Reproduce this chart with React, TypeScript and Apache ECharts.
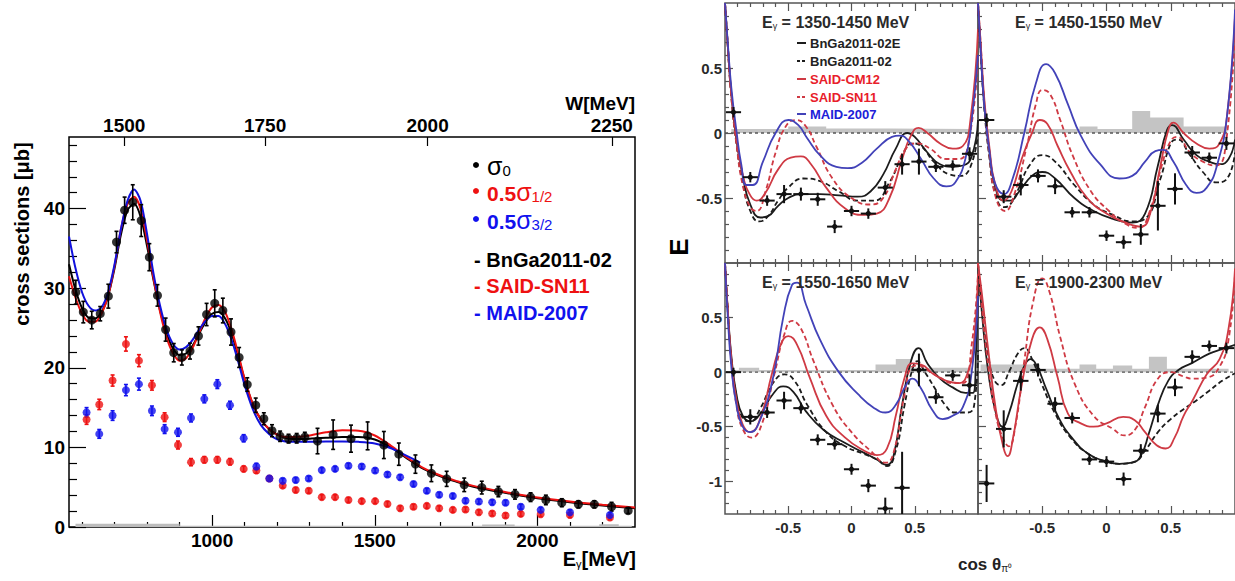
import React, { useEffect, useRef } from "react";
import * as echarts from "echarts";

const FF = '"Liberation Sans", Arial, Helvetica, sans-serif';
const MP = 938.27;

// ---------------- left chart: cross sections ----------------
const sigma0E = [581, 604, 630, 656, 681, 706, 731, 756, 782, 807, 832, 857, 882, 907, 932, 958, 983, 1008, 1033, 1058, 1083, 1108, 1134, 1159, 1184, 1209, 1235, 1260, 1285, 1324, 1372, 1427, 1478, 1528, 1574, 1625, 1674, 1721, 1775, 1829, 1880, 1931, 1979, 2026, 2075, 2126, 2175, 2228, 2279];
const sigma0 = [29.5, 27.0, 26.0, 26.8, 29.0, 35.8, 39.8, 40.8, 38.5, 33.9, 29.1, 24.8, 21.9, 21.3, 22.1, 24.0, 26.7, 28.1, 27.2, 24.5, 21.3, 17.9, 15.3, 13.6, 12.1, 11.4, 11.1, 11.15, 11.3, 10.8, 11.6, 11.1, 11.45, 10.3, 9.15, 7.9, 6.75, 6.05, 5.3, 4.95, 4.45, 4.1, 3.75, 3.4, 3.05, 2.85, 2.85, 2.55, 2.05];
const sigma0Err = [1.5, 1.35, 1.1, 0.9, 1.5, 1.35, 1.65, 2.2, 2.0, 1.7, 1.35, 1.45, 1.15, 0.95, 1.0, 1.15, 1.4, 1.7, 1.55, 1.65, 1.25, 0.85, 0.9, 0.75, 0.75, 0.65, 0.55, 0.6, 0.6, 1.6, 1.85, 1.7, 1.75, 1.7, 1.4, 1.15, 1.05, 0.95, 0.85, 0.8, 0.65, 0.6, 0.55, 0.6, 0.5, 0.45, 0.45, 0.55, 0.35];

const halfE = [614, 653, 694, 735, 775, 815, 854, 895, 935, 976, 1016, 1055, 1097, 1136, 1176, 1217, 1257, 1297, 1337, 1378, 1419, 1460, 1501, 1539, 1578, 1619, 1660, 1698, 1740, 1779, 1820, 1861, 1902, 1949, 2010, 2100, 2223];
const sigmaHalf = [13.5, 15.4, 18.4, 23.0, 20.9, 17.8, 13.8, 10.3, 8.15, 8.45, 8.45, 8.2, 7.3, 7.1, 6.1, 5.2, 4.65, 4.55, 3.75, 3.75, 3.4, 3.25, 3.25, 2.9, 2.35, 2.55, 2.65, 2.35, 2.15, 2.2, 1.85, 1.7, 1.45, 1.65, 1.6, 1.5, 1.2];
const sigmaHalfErr = [0.6, 0.65, 0.7, 0.9, 0.75, 0.6, 0.55, 0.5, 0.45, 0.4, 0.4, 0.4, 0.35, 0.35, 0.3, 0.3, 0.3, 0.3, 0.3, 0.3, 0.3, 0.3, 0.3, 0.3, 0.3, 0.3, 0.3, 0.3, 0.3, 0.3, 0.3, 0.3, 0.3, 0.3, 0.3, 0.3, 0.3];
const sigma32 = [14.4, 11.7, 14.0, 17.2, 17.95, 14.6, 12.3, 11.9, 13.7, 16.1, 17.95, 15.3, 11.15, 7.6, 6.1, 5.8, 5.9, 6.1, 7.15, 7.3, 7.7, 7.6, 7.1, 6.6, 6.25, 5.4, 4.55, 4.05, 3.9, 3.3, 3.2, 3.1, 3.05, 2.55, 2.15, 1.85, 1.5];
const sigma32Err = [0.6, 0.55, 0.6, 0.7, 0.75, 0.6, 0.55, 0.5, 0.5, 0.5, 0.55, 0.5, 0.45, 0.4, 0.35, 0.3, 0.3, 0.3, 0.3, 0.3, 0.3, 0.3, 0.3, 0.3, 0.3, 0.3, 0.3, 0.3, 0.3, 0.3, 0.3, 0.3, 0.3, 0.3, 0.3, 0.3, 0.3];

const curveE = [560, 580, 600, 620, 640, 660, 680, 700, 720, 740, 760, 780, 800, 820, 840, 860, 880, 900, 920, 940, 960, 980, 1000, 1020, 1040, 1060, 1080, 1100, 1125, 1150, 1175, 1200, 1225, 1250, 1300, 1350, 1400, 1450, 1500, 1550, 1600, 1650, 1700, 1750, 1800, 1900, 2000, 2100, 2200, 2300];
const bngaSigma = [33.0, 29.8, 27.5, 26.3, 26.2, 27.0, 29.0, 32.5, 36.8, 39.8, 40.6, 39.0, 35.3, 31.0, 27.2, 24.3, 22.4, 21.6, 21.8, 22.8, 24.3, 25.8, 26.8, 27.0, 26.2, 24.3, 21.5, 18.5, 15.4, 13.5, 12.3, 11.6, 11.2, 11.05, 11.1, 11.2, 11.3, 11.3, 11.0, 10.0, 8.6, 7.3, 6.4, 5.7, 5.1, 4.3, 3.6, 3.1, 2.7, 2.35];
const saidSigma = [31.5, 28.8, 26.8, 25.8, 25.8, 26.8, 29.0, 32.8, 37.5, 40.6, 41.5, 40.0, 36.0, 31.2, 27.0, 23.8, 21.8, 20.9, 21.2, 22.5, 24.4, 26.3, 27.6, 27.9, 27.0, 24.8, 21.8, 18.6, 15.5, 13.5, 12.3, 11.6, 11.3, 11.3, 11.5, 11.9, 12.15, 12.1, 11.5, 10.2, 8.7, 7.4, 6.5, 5.8, 5.2, 4.4, 3.7, 3.2, 2.8, 2.45];
const maidE = [560, 580, 600, 620, 640, 660, 680, 700, 720, 740, 760, 780, 800, 820, 840, 860, 880, 900, 920, 940, 960, 980, 1000, 1020, 1040, 1060, 1080, 1100, 1125, 1150, 1175, 1200, 1225, 1250, 1300, 1350, 1400, 1450, 1500, 1550, 1600, 1640];
const maidSigma = [36.5, 32.5, 29.5, 27.8, 27.2, 27.6, 29.5, 33.0, 37.5, 41.0, 42.4, 41.0, 36.8, 31.8, 27.8, 24.8, 23.0, 22.3, 22.6, 23.5, 24.8, 25.9, 26.5, 26.5, 25.5, 23.5, 20.8, 17.8, 14.8, 12.8, 11.7, 11.0, 10.75, 10.7, 10.7, 10.75, 10.75, 10.7, 10.5, 9.9, 8.9, 8.1];
const sysEdgeE = [580, 900, 1830, 1930, 2190, 2250, 2290];
const sysSigma = [0.4, 0.15, 0.3, 0.15, 0.35, 0.15, 0.15];

const eMajorTicks = [1000, 1500, 2000];
const eMinorTicks = [600, 700, 800, 900, 1100, 1200, 1300, 1400, 1600, 1700, 1800, 1900, 2100, 2200];
const sMajorTicks = [0, 10, 20, 30, 40];
const sMinorTicks = [2, 4, 6, 8, 12, 14, 16, 18, 22, 24, 26, 28, 32, 34, 36, 38, 42, 44, 46, 48];
const wTicks = [1500, 1750, 2000, 2250];

// ---------------- right chart: E asymmetry ----------------
const binCos = [-0.933, -0.8, -0.667, -0.533, -0.4, -0.267, -0.133, 0, 0.133, 0.267, 0.4, 0.533, 0.667, 0.8, 0.933];
const cosMajor = [-0.5, 0, 0.5];
const cosMinor = [-0.9, -0.8, -0.7, -0.6, -0.4, -0.3, -0.2, -0.1, 0.1, 0.2, 0.3, 0.4, 0.6, 0.7, 0.8, 0.9];
const eMajorTop = [-0.5, 0, 0.5];
const eMinorTop = [-0.9, -0.8, -0.7, -0.6, -0.4, -0.3, -0.2, -0.1, 0.1, 0.2, 0.3, 0.4, 0.6, 0.7, 0.8, 0.9];
const eMajorBottom = [-1, -0.5, 0, 0.5];
const eMinorBottom = [-1.2, -1.1, -0.9, -0.8, -0.7, -0.6, -0.4, -0.3, -0.2, -0.1, 0.1, 0.2, 0.3, 0.4, 0.6, 0.7, 0.8, 0.9];

// 1350-1450 MeV
const tlE = [0.16, -0.34, -0.52, -0.47, -0.47, -0.51, -0.72, -0.6, -0.62, -0.42, -0.24, -0.22, -0.26, -0.25, -0.16];
const tlErr = [0.04, 0.04, 0.04, 0.07, 0.05, 0.05, 0.05, 0.04, 0.04, 0.05, 0.08, 0.1, 0.04, 0.04, 0.05];
const tlBnGaE = [[-1, 1], [-0.98, 0.7], [-0.95, 0.3], [-0.91, -0.05], [-0.86, -0.33], [-0.8, -0.55], [-0.72, -0.65], [-0.66, -0.64], [-0.58, -0.56], [-0.5, -0.5], [-0.4, -0.47], [-0.25, -0.47], [-0.1, -0.48], [0.05, -0.49], [0.15, -0.45], [0.25, -0.32], [0.35, -0.12], [0.44, 0.0], [0.5, -0.03], [0.6, -0.15], [0.7, -0.24], [0.8, -0.26], [0.88, -0.25], [0.95, -0.18], [1, 0.1]];
const tlBnGa = [[-1, 1], [-0.98, 0.7], [-0.95, 0.28], [-0.91, -0.08], [-0.86, -0.38], [-0.8, -0.6], [-0.73, -0.68], [-0.66, -0.64], [-0.58, -0.52], [-0.5, -0.42], [-0.38, -0.35], [-0.25, -0.37], [-0.1, -0.45], [0.05, -0.52], [0.18, -0.52], [0.3, -0.38], [0.4, -0.18], [0.48, -0.08], [0.55, -0.1], [0.65, -0.22], [0.78, -0.32], [0.86, -0.33], [0.94, -0.26], [1, 0.0]];
const tlCM12 = [[-1, 1], [-0.98, 0.7], [-0.95, 0.3], [-0.91, -0.03], [-0.86, -0.32], [-0.8, -0.48], [-0.75, -0.52], [-0.68, -0.46], [-0.58, -0.28], [-0.48, -0.19], [-0.4, -0.18], [-0.32, -0.24], [-0.2, -0.42], [-0.05, -0.58], [0.1, -0.63], [0.2, -0.62], [0.3, -0.5], [0.4, -0.2], [0.47, -0.02], [0.53, 0.04], [0.6, 0.0], [0.7, -0.08], [0.8, -0.12], [0.88, -0.1], [0.94, 0.1], [1, 0.8]];
const tlSN11 = [[-1, 1], [-0.98, 0.7], [-0.95, 0.28], [-0.91, -0.08], [-0.86, -0.4], [-0.8, -0.57], [-0.75, -0.6], [-0.68, -0.45], [-0.6, -0.15], [-0.52, 0.05], [-0.44, 0.1], [-0.36, 0.05], [-0.28, -0.1], [-0.15, -0.35], [0.0, -0.5], [0.15, -0.55], [0.25, -0.5], [0.35, -0.28], [0.43, -0.12], [0.52, -0.08], [0.62, -0.12], [0.75, -0.2], [0.85, -0.2], [0.93, -0.05], [1, 0.6]];
const tlMAID = [[-1, 1], [-0.98, 0.72], [-0.95, 0.35], [-0.91, 0.02], [-0.87, -0.25], [-0.83, -0.4], [-0.78, -0.4], [-0.7, -0.22], [-0.6, 0.0], [-0.5, 0.1], [-0.42, 0.06], [-0.35, -0.04], [-0.25, -0.17], [-0.12, -0.26], [-0.03, -0.27], [0.08, -0.23], [0.2, -0.12], [0.32, -0.03], [0.38, -0.02], [0.45, -0.06], [0.55, -0.2], [0.65, -0.35], [0.75, -0.41], [0.82, -0.38], [0.9, -0.2], [0.95, 0.1], [1, 0.6]];
const tlSys = [[-0.95, 0.03], [-0.5, 0.05], [-0.2, 0.035], [0.3, 0.03], [0.95, 0.03]];

// 1450-1550 MeV
const trE = [0.1, -0.49, -0.4, -0.33, -0.41, -0.61, -0.61, -0.79, -0.84, -0.78, -0.56, -0.43, -0.15, -0.19, -0.08];
const trErr = [0.05, 0.05, 0.08, 0.05, 0.06, 0.04, 0.04, 0.04, 0.05, 0.08, 0.19, 0.12, 0.05, 0.04, 0.05];
const trBnGaE = [[-1, 1], [-0.98, 0.65], [-0.95, 0.2], [-0.91, -0.15], [-0.87, -0.4], [-0.8, -0.52], [-0.75, -0.52], [-0.68, -0.45], [-0.58, -0.33], [-0.5, -0.3], [-0.4, -0.35], [-0.25, -0.5], [-0.1, -0.6], [0.05, -0.66], [0.2, -0.69], [0.3, -0.62], [0.4, -0.25], [0.47, 0.02], [0.51, 0.06], [0.6, -0.05], [0.7, -0.17], [0.8, -0.22], [0.88, -0.24], [0.95, -0.2], [1, -0.05]];
const trBnGa = [[-1, 1], [-0.98, 0.65], [-0.95, 0.18], [-0.91, -0.2], [-0.87, -0.45], [-0.8, -0.57], [-0.75, -0.55], [-0.68, -0.42], [-0.6, -0.25], [-0.5, -0.17], [-0.4, -0.22], [-0.25, -0.4], [-0.1, -0.55], [0.05, -0.63], [0.2, -0.68], [0.3, -0.66], [0.42, -0.35], [0.5, -0.08], [0.55, -0.05], [0.65, -0.17], [0.75, -0.3], [0.85, -0.38], [0.93, -0.36], [1, -0.15]];
const trCM12 = [[-1, 1], [-0.98, 0.7], [-0.95, 0.25], [-0.91, -0.12], [-0.87, -0.38], [-0.8, -0.52], [-0.74, -0.45], [-0.66, -0.2], [-0.58, 0.0], [-0.52, 0.1], [-0.46, 0.07], [-0.38, -0.1], [-0.28, -0.3], [-0.15, -0.5], [0.0, -0.62], [0.15, -0.69], [0.27, -0.72], [0.34, -0.62], [0.42, -0.25], [0.48, 0.02], [0.52, 0.08], [0.6, 0.0], [0.7, -0.08], [0.8, -0.12], [0.88, -0.08], [0.94, 0.15], [1, 0.9]];
const trSN11 = [[-1, 1], [-0.98, 0.7], [-0.95, 0.22], [-0.91, -0.18], [-0.86, -0.5], [-0.79, -0.6], [-0.72, -0.48], [-0.62, -0.1], [-0.55, 0.22], [-0.5, 0.33], [-0.44, 0.3], [-0.36, 0.1], [-0.26, -0.18], [-0.12, -0.45], [0.02, -0.6], [0.15, -0.7], [0.25, -0.73], [0.33, -0.62], [0.43, -0.25], [0.5, -0.06], [0.55, -0.03], [0.65, -0.15], [0.75, -0.22], [0.85, -0.25], [0.92, -0.15], [1, 0.8]];
const trMAID = [[-1, 1], [-0.98, 0.65], [-0.95, 0.2], [-0.91, -0.15], [-0.87, -0.38], [-0.8, -0.47], [-0.73, -0.35], [-0.64, 0.0], [-0.55, 0.38], [-0.47, 0.53], [-0.4, 0.46], [-0.3, 0.22], [-0.2, -0.02], [-0.05, -0.24], [0.1, -0.35], [0.2, -0.33], [0.3, -0.22], [0.38, -0.14], [0.44, -0.13], [0.52, -0.22], [0.62, -0.4], [0.7, -0.46], [0.78, -0.42], [0.86, -0.25], [0.94, 0.15], [1, 0.95]];
const trSys = [[-0.94, 0.03], [-0.21, 0.05], [-0.07, 0.03], [0.2, 0.17], [0.34, 0.12], [0.6, 0.05], [0.94, 0.05]];

// 1550-1650 MeV
const blE = [0.0, -0.41, -0.37, -0.26, -0.33, -0.62, -0.66, -0.89, -1.04, -1.25, -1.06, 0.02, -0.23, -0.03, -0.12];
const blErr = [0.04, 0.07, 0.05, 0.08, 0.05, 0.05, 0.05, 0.05, 0.06, 0.1, 0.33, 0.15, 0.06, 0.05, 0.1];
const blBnGaE = [[-1, 1], [-0.98, 0.6], [-0.95, 0.15], [-0.91, -0.2], [-0.86, -0.4], [-0.8, -0.45], [-0.72, -0.38], [-0.62, -0.2], [-0.54, -0.13], [-0.46, -0.18], [-0.36, -0.36], [-0.22, -0.53], [-0.05, -0.65], [0.1, -0.74], [0.2, -0.8], [0.28, -0.85], [0.33, -0.78], [0.4, -0.3], [0.47, 0.1], [0.53, 0.22], [0.6, 0.08], [0.7, -0.06], [0.8, -0.14], [0.9, -0.19], [0.96, -0.19], [0.985, 0.2], [1, 0.8]];
const blBnGa = [[-1, 1], [-0.98, 0.6], [-0.95, 0.12], [-0.91, -0.22], [-0.86, -0.42], [-0.8, -0.45], [-0.72, -0.33], [-0.62, -0.1], [-0.53, -0.02], [-0.45, -0.08], [-0.35, -0.3], [-0.2, -0.55], [-0.05, -0.68], [0.1, -0.75], [0.2, -0.8], [0.28, -0.86], [0.35, -0.72], [0.42, -0.3], [0.48, 0.02], [0.52, 0.1], [0.58, 0.0], [0.66, -0.15], [0.74, -0.3], [0.82, -0.37], [0.92, -0.37], [0.97, -0.3], [1, 0.2]];
const blCM12 = [[-1, 1], [-0.98, 0.6], [-0.95, 0.12], [-0.91, -0.25], [-0.86, -0.48], [-0.8, -0.55], [-0.72, -0.42], [-0.63, -0.02], [-0.56, 0.25], [-0.5, 0.33], [-0.43, 0.25], [-0.33, -0.05], [-0.2, -0.4], [-0.05, -0.6], [0.1, -0.72], [0.2, -0.76], [0.28, -0.7], [0.35, -0.4], [0.42, -0.05], [0.48, 0.08], [0.55, 0.07], [0.65, -0.02], [0.75, -0.08], [0.85, -0.1], [0.92, 0.0], [0.97, 0.3], [1, 0.9]];
const blSN11 = [[-1, 1], [-0.98, 0.6], [-0.95, 0.1], [-0.91, -0.3], [-0.86, -0.52], [-0.79, -0.6], [-0.71, -0.48], [-0.61, -0.02], [-0.53, 0.35], [-0.47, 0.47], [-0.4, 0.4], [-0.3, 0.1], [-0.15, -0.3], [0.0, -0.55], [0.15, -0.72], [0.27, -0.83], [0.33, -0.75], [0.42, -0.2], [0.48, 0.05], [0.53, 0.06], [0.6, 0.02], [0.7, -0.05], [0.8, -0.1], [0.88, -0.1], [0.95, 0.25], [1, 0.9]];
const blMAID = [[-1, 1], [-0.98, 0.55], [-0.95, 0.05], [-0.91, -0.3], [-0.86, -0.5], [-0.8, -0.55], [-0.72, -0.43], [-0.62, -0.05], [-0.54, 0.5], [-0.47, 0.8], [-0.43, 0.82], [-0.36, 0.62], [-0.25, 0.3], [-0.1, 0.0], [0.05, -0.2], [0.18, -0.33], [0.27, -0.37], [0.35, -0.3], [0.43, -0.12], [0.48, -0.06], [0.55, -0.15], [0.64, -0.35], [0.72, -0.43], [0.8, -0.4], [0.88, -0.32], [0.95, 0.0], [1, 0.7]];
const blSys = [[-0.95, 0.02], [-0.89, 0.04], [-0.73, 0.02], [0.19, 0.07], [0.35, 0.12], [0.47, 0.04], [0.95, 0.04]];

// 1900-2300 MeV
const brE = [-1.02, -0.52, -0.08, 0.02, -0.29, -0.42, -0.8, -0.82, -0.98, -0.72, -0.38, -0.14, 0.14, 0.24, 0.22];
const brErr = [0.17, 0.17, 0.09, 0.06, 0.06, 0.05, 0.05, 0.05, 0.06, 0.06, 0.08, 0.08, 0.06, 0.05, 0.05];
const brBnGaE = [[-1, 1], [-0.97, 0.55], [-0.92, 0.0], [-0.86, -0.38], [-0.81, -0.5], [-0.76, -0.38], [-0.69, -0.1], [-0.63, 0.08], [-0.59, 0.12], [-0.54, 0.05], [-0.47, -0.15], [-0.38, -0.4], [-0.27, -0.6], [-0.14, -0.75], [0.0, -0.82], [0.1, -0.84], [0.2, -0.83], [0.27, -0.76], [0.33, -0.56], [0.4, -0.3], [0.48, -0.08], [0.56, 0.02], [0.66, 0.08], [0.8, 0.17], [0.9, 0.21], [1, 0.25]];
const brBnGa = [[-1, 1], [-0.97, 0.6], [-0.92, 0.15], [-0.87, -0.08], [-0.82, -0.12], [-0.76, 0.0], [-0.69, 0.17], [-0.64, 0.22], [-0.58, 0.12], [-0.5, -0.12], [-0.4, -0.38], [-0.28, -0.6], [-0.14, -0.75], [0.0, -0.82], [0.1, -0.84], [0.22, -0.82], [0.3, -0.72], [0.4, -0.55], [0.5, -0.43], [0.6, -0.34], [0.7, -0.26], [0.8, -0.17], [0.9, -0.08], [1, -0.01]];
const brCM12 = [[-1, 1], [-0.97, 0.72], [-0.92, 0.2], [-0.86, -0.35], [-0.8, -0.7], [-0.77, -0.77], [-0.73, -0.62], [-0.66, -0.12], [-0.58, 0.3], [-0.52, 0.41], [-0.46, 0.3], [-0.38, -0.05], [-0.3, -0.38], [-0.2, -0.47], [-0.1, -0.5], [0.0, -0.47], [0.13, -0.41], [0.22, -0.44], [0.3, -0.55], [0.39, -0.67], [0.46, -0.7], [0.53, -0.6], [0.6, -0.4], [0.67, -0.26], [0.78, -0.02], [0.88, 0.12], [0.95, 0.4], [1, 0.95]];
const brSN11 = [[-1, 1], [-0.97, 0.6], [-0.92, 0.05], [-0.86, -0.4], [-0.8, -0.62], [-0.76, -0.68], [-0.71, -0.5], [-0.64, 0.1], [-0.57, 0.65], [-0.5, 0.86], [-0.44, 0.72], [-0.36, 0.32], [-0.25, -0.1], [-0.1, -0.4], [0.05, -0.52], [0.14, -0.58], [0.22, -0.53], [0.3, -0.32], [0.4, -0.06], [0.5, 0.0], [0.6, -0.04], [0.67, -0.06], [0.78, -0.05], [0.88, 0.05], [0.95, 0.3], [1, 0.9]];
const brSys = [[-0.98, 0.07], [-0.52, 0.03], [-0.21, 0.07], [-0.08, 0.03], [0.05, 0.06], [0.2, 0.03], [0.33, 0.14], [0.47, 0.03], [0.95, 0.03]];

const panelTitles = ["1350-1450 MeV", "1450-1550 MeV", "1550-1650 MeV", "1900-2300 MeV"];
const rightLegend = ["BnGa2011-02E", "BnGa2011-02", "SAID-CM12", "SAID-SN11", "MAID-2007"];
const leftLegendModels = ["BnGa2011-02", "SAID-SN11", "MAID-2007"];

const C_BLACK = "#1c1c1c";
const C_RED = "#cf3a44";
const C_BLUE = "#4242b8";

function axis(gridIndex: number, position: string, min: number, max: number, ticks: number[], len: number, labels: number[] | null, labelOpt: any, color: string) {
  return {
    type: "value",
    gridIndex,
    position,
    min,
    max,
    axisLine: { show: false, onZero: false },
    splitLine: { show: false },
    axisTick: { show: true, inside: true, length: len, customValues: ticks, lineStyle: { color, width: 1.2 } },
    axisLabel: labels ? { show: true, customValues: labels, formatter: (v: number) => String(v), ...labelOpt } : { show: false },
  };
}

const vbar = (color: string) => (params: any, api: any) => {
  const x = api.value(0), y = api.value(1), e = api.value(2);
  const t = api.coord([x, y + e]);
  const b = api.coord([x, y - e]);
  const st = { stroke: color, lineWidth: 1.6 };
  return {
    type: "group",
    children: [
      { type: "line", shape: { x1: t[0], y1: t[1], x2: b[0], y2: b[1] }, style: st },
      { type: "line", shape: { x1: t[0] - 2, y1: t[1], x2: t[0] + 2, y2: t[1] }, style: st },
      { type: "line", shape: { x1: b[0] - 2, y1: b[1], x2: b[0] + 2, y2: b[1] }, style: st },
    ],
  };
};

const crossRender = (params: any, api: any) => {
  const x = api.value(0), y = api.value(1), e = api.value(2);
  const l = api.coord([x - 0.06, y]);
  const r = api.coord([x + 0.06, y]);
  const t = api.coord([x, y + e]);
  const b = api.coord([x, y - e]);
  const st = { stroke: "#111", lineWidth: 2 };
  return {
    type: "group",
    children: [
      { type: "line", shape: { x1: l[0], y1: l[1], x2: r[0], y2: r[1] }, style: st },
      { type: "line", shape: { x1: t[0], y1: t[1], x2: b[0], y2: b[1] }, style: st },
      { type: "circle", shape: { cx: (l[0] + r[0]) / 2, cy: l[1], r: 2.6 }, style: { fill: "#111" } },
    ],
  };
};

function buildOption() {
  const grids: any[] = [];
  const xAxes: any[] = [];
  const yAxes: any[] = [];
  const series: any[] = [];
  const graphic: any[] = [];

  // ----- left chart -----
  const lg = { left: 69, top: 137, width: 566, height: 390 };
  grids.push({ ...lg, show: true, borderColor: "#000", borderWidth: 1.5, backgroundColor: "transparent" });
  grids.push({ ...lg, show: false });
  const lblL = { color: "#000", fontFamily: FF, fontWeight: "bold", fontSize: 19 };
  xAxes.push(axis(0, "bottom", 560, 2300, eMajorTicks, 12, eMajorTicks, { ...lblL, margin: 4 }, "#000"));
  const wPos = wTicks.map((w) => (w * w - MP * MP) / (2 * MP));
  xAxes.push(
    axis(0, "top", 560, 2300, wPos, 9, wPos, {
      ...lblL,
      margin: 2,
      formatter: (v: number) => String(Math.round(Math.sqrt(MP * MP + 2 * MP * v) / 10) * 10),
    }, "#000")
  );
  xAxes.push(axis(1, "bottom", 560, 2300, eMinorTicks, 5, null, {}, "#000"));
  yAxes.push(axis(0, "left", 0, 49, sMajorTicks, 17, sMajorTicks, { ...lblL, margin: 4 }, "#000"));
  yAxes.push(axis(1, "left", 0, 49, sMinorTicks, 8, null, {}, "#000"));

  series.push({
    type: "line", xAxisIndex: 0, yAxisIndex: 0, step: "end", symbol: "none",
    data: sysEdgeE.map((x, i) => [x, sysSigma[i]]),
    lineStyle: { width: 0 }, areaStyle: { color: "#bdbdbd", opacity: 1 }, z: 1,
  });
  const curve = (xs: number[], ys: number[], color: string) => ({
    type: "line", xAxisIndex: 0, yAxisIndex: 0, symbol: "none", smooth: 0.3,
    data: xs.map((x, i) => [x, ys[i]]), lineStyle: { color, width: 2 }, z: 3,
  });
  series.push(curve(curveE, bngaSigma, "#000"));
  series.push(curve(curveE, saidSigma, "#ee1111"));
  series.push(curve(maidE, maidSigma, "#1111dd"));
  const errSeries = (xs: number[], ys: number[], es: number[], color: string) => ({
    type: "custom", xAxisIndex: 0, yAxisIndex: 0, renderItem: vbar(color),
    data: xs.map((x, i) => [x, ys[i], es[i]]), encode: { x: 0, y: 1 }, z: 4,
  });
  const pts = (xs: number[], ys: number[], color: string, size: number) => ({
    type: "scatter", xAxisIndex: 0, yAxisIndex: 0, symbol: "circle", symbolSize: size,
    data: xs.map((x, i) => [x, ys[i]]), itemStyle: { color }, z: 5,
  });
  series.push(errSeries(halfE, sigmaHalf, sigmaHalfErr, "#ee1111"));
  series.push(errSeries(halfE, sigma32, sigma32Err, "#1111ee"));
  series.push(pts(halfE, sigmaHalf, "#ee1111", 8));
  series.push(pts(halfE, sigma32, "#1111ee", 8));
  series.push(errSeries(sigma0E, sigma0, sigma0Err, "#000"));
  series.push(pts(sigma0E, sigma0, "#000", 9));

  // ----- right panels -----
  const panels = [
    { rect: { left: 725, top: 3, width: 253, height: 260 }, ymin: -1, ymax: 1, yMaj: eMajorTop, yMin: eMinorTop, yLab: true, xLab: false, data: tlE, err: tlErr, curves: [tlBnGaE, tlBnGa, tlCM12, tlSN11, tlMAID], sys: tlSys },
    { rect: { left: 978, top: 3, width: 257, height: 260 }, ymin: -1, ymax: 1, yMaj: eMajorTop, yMin: eMinorTop, yLab: false, xLab: false, data: trE, err: trErr, curves: [trBnGaE, trBnGa, trCM12, trSN11, trMAID], sys: trSys },
    { rect: { left: 725, top: 263, width: 253, height: 251 }, ymin: -1.3, ymax: 1, yMaj: eMajorBottom, yMin: eMinorBottom, yLab: true, xLab: true, data: blE, err: blErr, curves: [blBnGaE, blBnGa, blCM12, blSN11, blMAID], sys: blSys },
    { rect: { left: 978, top: 263, width: 257, height: 251 }, ymin: -1.3, ymax: 1, yMaj: eMajorBottom, yMin: eMinorBottom, yLab: false, xLab: true, data: brE, err: brErr, curves: [brBnGaE, brBnGa, brCM12, brSN11, null], sys: brSys },
  ];
  const lblR = { color: "#2a2a2a", fontFamily: FF, fontWeight: "bold", fontSize: 15 };
  const styles = [
    { color: C_BLACK, type: "solid" },
    { color: C_BLACK, type: [5, 3] },
    { color: C_RED, type: "solid" },
    { color: C_RED, type: [5, 3] },
    { color: C_BLUE, type: "solid" },
  ];
  panels.forEach((p, k) => {
    const gMaj = grids.length;
    grids.push({ ...p.rect, show: true, borderColor: "#555", borderWidth: 1.5, backgroundColor: "transparent" });
    const gMin = grids.length;
    grids.push({ ...p.rect, show: false });
    const xi = xAxes.length;
    xAxes.push(axis(gMaj, "bottom", -1, 1, cosMajor, 8, p.xLab ? cosMajor : null, { ...lblR, margin: 6 }, "#555"));
    xAxes.push(axis(gMaj, "top", -1, 1, cosMajor, 8, null, {}, "#555"));
    xAxes.push(axis(gMin, "bottom", -1, 1, cosMinor, 4, null, {}, "#555"));
    xAxes.push(axis(gMin, "top", -1, 1, cosMinor, 4, null, {}, "#555"));
    const yi = yAxes.length;
    yAxes.push(axis(gMaj, "left", p.ymin, p.ymax, p.yMaj, 8, p.yLab ? p.yMaj : null, { ...lblR, margin: 3 }, "#555"));
    yAxes.push(axis(gMin, "left", p.ymin, p.ymax, p.yMin, 4, null, {}, "#555"));

    series.push({
      type: "line", xAxisIndex: xi, yAxisIndex: yi, step: "end", symbol: "none",
      data: p.sys, lineStyle: { width: 0 }, areaStyle: { color: "#c4c4c4", opacity: 1 }, z: 1,
    });
    series.push({
      type: "line", xAxisIndex: xi, yAxisIndex: yi, symbol: "none",
      data: [[-1, 0], [1, 0]], lineStyle: { color: "#555", width: 1.4, type: [3, 3] }, z: 2,
    });
    p.curves.forEach((c, j) => {
      if (!c) return;
      series.push({
        type: "line", xAxisIndex: xi, yAxisIndex: yi, symbol: "none", smooth: 0.5,
        data: c, lineStyle: { color: styles[j].color, width: 1.8, type: styles[j].type }, z: 3, clip: true,
      });
    });
    series.push({
      type: "custom", xAxisIndex: xi, yAxisIndex: yi, renderItem: crossRender, clip: true,
      data: binCos.map((x, i) => [x, p.data[i], p.err[i]]), encode: { x: 0, y: 1 }, z: 5,
    });

    graphic.push({
      type: "text",
      x: p.rect.left + 37,
      y: p.rect.top + 17,
      style: {
        text: "{e|E}{g|γ}{t| = " + panelTitles[k] + "}",
        fill: "#2a2a2a",
        verticalAlign: "middle",
        rich: {
          e: { fontFamily: FF, fontWeight: "bold", fontSize: 16, fill: "#2a2a2a", lineHeight: 20, verticalAlign: "bottom" },
          g: { fontFamily: FF, fontSize: 9, fill: "#2a2a2a", lineHeight: 9, verticalAlign: "bottom" },
          t: { fontFamily: FF, fontWeight: "bold", fontSize: 16, fill: "#2a2a2a", lineHeight: 20, verticalAlign: "bottom" },
        },
      },
      z: 20,
    });
  });

  // right legend
  const legY = [43, 61, 79, 97, 114];
  const legTextColor = ["#222", "#222", "#e8202a", "#e8202a", "#2020d8"];
  rightLegend.forEach((name, i) => {
    graphic.push({
      type: "line",
      shape: { x1: 797, y1: legY[i], x2: 806, y2: legY[i] },
      style: { stroke: styles[i].color, lineWidth: 2, lineDash: i % 2 === 1 && i < 4 ? [3, 2] : null },
      z: 20,
    });
    graphic.push({
      type: "text", x: 810, y: legY[i],
      style: { text: name, font: `bold 13px ${FF}`, fill: legTextColor[i], verticalAlign: "middle" },
      z: 20,
    });
  });

  // right axis titles
  graphic.push({
    type: "text", x: 679, y: 247, rotation: Math.PI / 2,
    style: { text: "E", font: `bold 26px ${FF}`, fill: "#000", align: "center", verticalAlign: "middle" },
  });
  graphic.push({
    type: "text", x: 985, y: 562,
    style: {
      text: "{c|cos θ}{s|π⁰}",
      align: "center",
      verticalAlign: "middle",
      rich: {
        c: { fontFamily: FF, fontWeight: "bold", fontSize: 17, fill: "#222", lineHeight: 22, verticalAlign: "bottom" },
        s: { fontFamily: FF, fontSize: 10, fill: "#222", lineHeight: 10, verticalAlign: "bottom" },
      },
    },
  });

  // left axis titles
  graphic.push({
    type: "text", x: 22, y: 234, rotation: Math.PI / 2,
    style: { text: "cross sections [μb]", font: `bold 20px ${FF}`, fill: "#000", align: "center", verticalAlign: "middle" },
  });
  graphic.push({
    type: "text", x: 635, y: 103,
    style: { text: "W[MeV]", font: `bold 19px ${FF}`, fill: "#000", align: "right", verticalAlign: "middle" },
  });
  graphic.push({
    type: "text", x: 636, y: 557,
    style: {
      text: "{e|E}{g|γ}{m|[MeV]}",
      align: "right",
      verticalAlign: "middle",
      rich: {
        e: { fontFamily: FF, fontWeight: "bold", fontSize: 20, fill: "#000", lineHeight: 24, verticalAlign: "bottom" },
        g: { fontFamily: FF, fontSize: 11, fill: "#000", lineHeight: 10, verticalAlign: "bottom" },
        m: { fontFamily: FF, fontWeight: "bold", fontSize: 20, fill: "#000", lineHeight: 24, verticalAlign: "bottom" },
      },
    },
  });

  // left legend
  const dotRows = [
    { y: 165, color: "#000", text: "{s|σ}{u|0}" },
    { y: 191, color: "#ee1111", text: "{n|0.5}{s|σ}{u|1/2}" },
    { y: 219, color: "#1111ee", text: "{n|0.5}{s|σ}{u|3/2}" },
  ];
  dotRows.forEach((r) => {
    graphic.push({ type: "circle", shape: { cx: 476, cy: r.y, r: 3 }, style: { fill: r.color } });
    graphic.push({
      type: "text", x: 487, y: r.y,
      style: {
        text: r.text,
        verticalAlign: "middle",
        rich: {
          n: { fontFamily: FF, fontWeight: "bold", fontSize: 21, fill: r.color, lineHeight: 26, verticalAlign: "bottom" },
          s: { fontFamily: FF, fontSize: 25, fill: r.color, lineHeight: 26, verticalAlign: "bottom" },
          u: { fontFamily: FF, fontSize: 15, fill: r.color, lineHeight: 14, verticalAlign: "bottom" },
        },
      },
    });
  });
  const modelRows = [
    { y: 260, color: "#000" },
    { y: 286, color: "#ee1111" },
    { y: 313, color: "#1111ee" },
  ];
  leftLegendModels.forEach((name, i) => {
    graphic.push({
      type: "text", x: 474, y: modelRows[i].y,
      style: { text: "- " + name, font: `bold 20px ${FF}`, fill: modelRows[i].color, verticalAlign: "middle" },
    });
  });

  return {
    animation: false,
    backgroundColor: "#fff",
    grid: grids,
    xAxis: xAxes,
    yAxis: yAxes,
    series,
    graphic,
  };
}

export default function App() {
  const ref = useRef<HTMLDivElement>(null);
  useEffect(() => {
    if (!ref.current) return;
    const chart = echarts.init(ref.current, null, { renderer: "svg" });
    chart.setOption(buildOption() as any);
    return () => chart.dispose();
  }, []);
  return <div ref={ref} style={{ position: "absolute", left: 0, top: 0, width: 1235, height: 581, background: "#fff" }} />;
}
